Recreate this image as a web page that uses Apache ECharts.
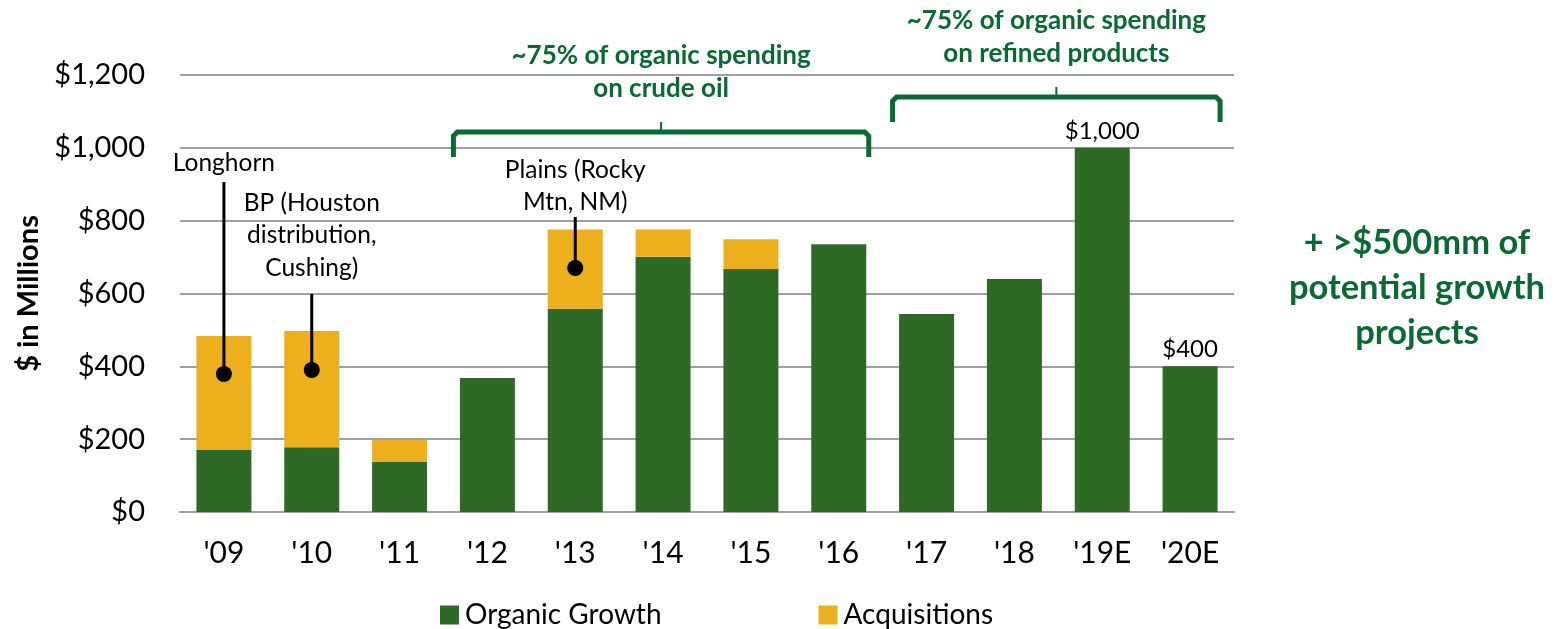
<!DOCTYPE html>
<html>
<head>
<meta charset="utf-8">
<script src="https://cdn.jsdelivr.net/npm/echarts@6/dist/echarts.min.js"></script>
<style>
html,body{margin:0;padding:0;background:#fff;}
#chart{width:1564px;height:629px;}
</style>
</head>
<body>
<div id="chart"></div>
<script>
const categories = ["'09","'10","'11","'12","'13","'14","'15","'16","'17","'18","'19E","'20E"];
const organicGrowth = [170,178,137,368,558,701,667,735,544,640,1000,400];
const acquisitions = [313,319,61,0,218,75,82,0,0,0,0,0];
const totalLabels = ['','','','','','','','','','','$1,000','$400'];
const yTicks = [0,200,400,600,800,1000,1200];

// callouts: category, dot value, label lines
const calloutCats = ["'09","'10","'13"];
const calloutDotValues = [379,390,670];
const calloutTexts = [["Longhorn"],["BP (Houston","distribution,","Cushing)"],["Plains (Rocky","Mtn, NM)"]];

// brackets: first/last category and text
const bracketStart = ["'12","'17"];
const bracketEnd = ["'16","'20E"];
const bracketTexts = [["~75% of organic spending","on crude oil"],["~75% of organic spending","on refined products"]];
const sideNote = ["+ >$500mm of","potential growth","projects"];

const GREEN = '#2e6a26', GOLD = '#ebb01c', TXTGREEN = '#0a6a33';
const FONT = 'Lato, "Open Sans", sans-serif';

const chart = echarts.init(document.getElementById('chart'));
const option = {
  animation:false,
  textStyle:{fontFamily:FONT},
  grid:{left:180, right:330, top:75, bottom:117},
  legend:{
    top:601, left:440, padding:0, itemWidth:19, itemHeight:19, itemGap:157,
    icon:'rect',
    textStyle:{fontSize:28, color:'#000', fontFamily:FONT, padding:[0,0,0,1]},
    data:['Organic Growth','Acquisitions']
  },
  xAxis:{
    type:'category', data:categories,
    axisTick:{show:false},
    axisLine:{lineStyle:{color:'#a0a0a0', width:2}},
    axisLabel:{fontSize:30, color:'#000', margin:26, fontFamily:FONT}
  },
  yAxis:{
    type:'value', min:0, max:1200, interval:200,
    name:'$ in Millions', nameLocation:'middle', nameGap:137, nameRotate:90,
    nameTextStyle:{fontSize:29, fontWeight:'bold', color:'#000', fontFamily:FONT},
    axisLabel:{fontSize:29, color:'#000', margin:35, fontFamily:FONT,
      formatter:v=>'$'+v.toLocaleString('en-US')},
    splitLine:{lineStyle:{color:'#a0a0a0', width:2}},
    axisLine:{show:false}, axisTick:{show:false}
  },
  series:[
    {name:'Organic Growth', type:'bar', stack:'a', barWidth:55, itemStyle:{color:GREEN},
     data:organicGrowth.map((v,i)=>({value:v, label:{show:!!totalLabels[i], position:'top', formatter:totalLabels[i], fontSize:24, color:'#000', distance:5, fontFamily:FONT}}))},
    {name:'Acquisitions', type:'bar', stack:'a', barWidth:55, itemStyle:{color:GOLD},
     data:acquisitions}
  ]
};
chart.setOption(option);

const px = (c,v)=>chart.convertToPixel({gridIndex:0},[c,v]);
const g = [];
// callouts
calloutCats.forEach((c,i)=>{
  const dot = px(c, calloutDotValues[i]);
  const lines = calloutTexts[i];
  let textTop, lineTop;
  if(i===0){ textTop = 163; lineTop = 182; }
  else if(i===1){ textTop = 203; lineTop = 294; }
  else { textTop = 170; lineTop = 217; }
  lines.forEach((t,k)=>{
    g.push({type:'text', x:dot[0], y:textTop + k*32.5, style:{text:t, fontSize:24.5, fill:'#000', align:'center', verticalAlign:'middle', fontFamily:FONT}, z:10});
  });
  g.push({type:'line', shape:{x1:dot[0], y1:lineTop, x2:dot[0], y2:dot[1]}, style:{stroke:'#000', lineWidth:3}, z:10});
  g.push({type:'circle', shape:{cx:dot[0], cy:dot[1], r:8}, style:{fill:'#000'}, z:10});
});
// brackets
const bracketY = [132, 97];
bracketStart.forEach((s,i)=>{
  const x1 = px(s,0)[0] - 34, x2 = px(bracketEnd[i],0)[0] + 30, y = bracketY[i], mid = (x1+x2)/2;
  g.push({type:'polyline', shape:{points:[[x1,y+25],[x1,y+4],[x1+4,y],[x2-4,y],[x2,y+4],[x2,y+25]]}, style:{stroke:TXTGREEN, lineWidth:5, fill:null}, z:10});
  g.push({type:'line', shape:{x1:mid, y1:y, x2:mid, y2:y-10}, style:{stroke:TXTGREEN, lineWidth:2}, z:10});
  bracketTexts[i].forEach((t,k)=>{
    g.push({type:'text', x:mid, y:y-76+k*33, style:{text:t, fontSize:26, fontWeight:'bold', fill:TXTGREEN, align:'center', verticalAlign:'middle', fontFamily:FONT}, z:10});
  });
});
// side note
sideNote.forEach((t,k)=>{
  g.push({type:'text', x:1417, y:243+k*45, style:{text:t, fontSize:34.5, fontWeight:'bold', fill:TXTGREEN, align:'center', verticalAlign:'middle', fontFamily:FONT}, z:10});
});
chart.setOption({graphic:g});
</script>
</body>
</html>
